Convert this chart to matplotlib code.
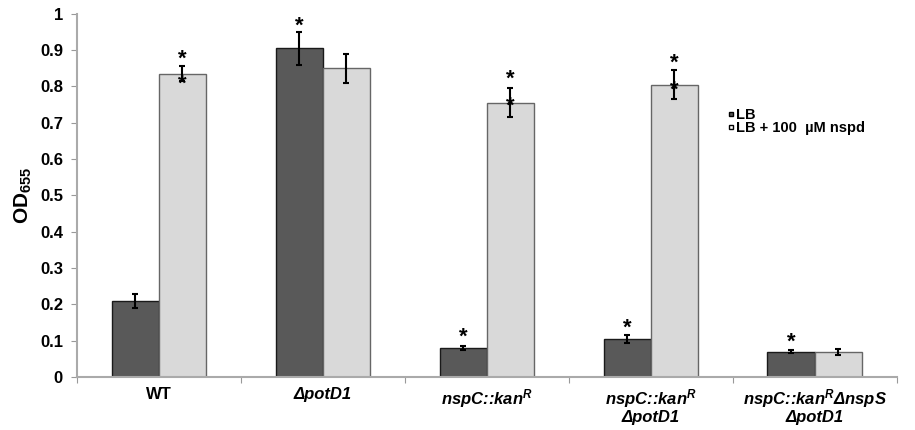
import numpy as np
import matplotlib.pyplot as plt
from matplotlib.lines import Line2D

plt.rcParams['font.family'] = ['Liberation Sans', 'DejaVu Sans']
plt.rcParams['mathtext.default'] = 'regular'

# strains and OD655 values
strains = ['WT', 'ΔpotD1', 'nspC::kan$^R$', 'nspC::kan$^R$\nΔpotD1',
           'nspC::kan$^R$ΔnspS\nΔpotD1']
lb = [0.21, 0.905, 0.08, 0.105, 0.07]
lb_err = [0.02, 0.045, 0.006, 0.01, 0.005]
nspd = [0.835, 0.85, 0.755, 0.805, 0.07]
nspd_err = [0.02, 0.04, 0.04, 0.04, 0.008]

# significance stars (group index, series offset, y position)
star_groups = [0, 0, 1, 2, 2, 3, 3, 2, 3, 4]
star_side = [1, 1, 0, 1, 1, 1, 1, 0, 0, 0]
star_y = [0.875, 0.805, 0.965, 0.82, 0.745, 0.865, 0.79, 0.11, 0.135, 0.095]

series_labels = ['LB', 'LB + 100  µM nspd']

x = np.arange(len(strains))
w = 0.288

fig = plt.figure(figsize=(9.15, 4.3), dpi=100)
ax = fig.add_axes([0.084, 0.123, 0.896, 0.845])

ax.bar(x - w / 2, lb, w, color='#595959', edgecolor='#1a1a1a', linewidth=1.0)
ax.bar(x + w / 2, nspd, w, color='#d9d9d9', edgecolor='#666666', linewidth=1.0)
ax.errorbar(x - w / 2, lb, yerr=lb_err, fmt='none', ecolor='black',
            elinewidth=1.5, capsize=2.5, capthick=1.5)
ax.errorbar(x + w / 2, nspd, yerr=nspd_err, fmt='none', ecolor='black',
            elinewidth=1.5, capsize=2.5, capthick=1.5)

for g, s, yy in zip(star_groups, star_side, star_y):
    xs = x[g] - w / 2 if s == 0 else x[g] + w / 2
    ax.text(xs, yy, '*', ha='center', va='center', fontsize=16,
            fontweight='bold')

ax.set_xlim(-0.5, len(strains) - 0.5)
ax.set_ylim(0, 1)
ax.set_yticks(np.arange(0, 1.01, 0.1))
ax.set_yticklabels(['0'] + ['%.1f' % v for v in np.arange(0.1, 0.95, 0.1)] + ['1'],
                   fontsize=12, fontweight='bold')

# category labels between ticks at the boundaries
ax.set_xticks(np.arange(-0.5, len(strains) - 0.4, 1.0))
ax.set_xticklabels([])
ax.set_xticks(x, minor=True)
ax.set_xticklabels(strains, minor=True, fontsize=12, fontweight='bold',
                   linespacing=1.0)
for i, lab in enumerate(ax.get_xticklabels(minor=True)):
    if i > 0:
        lab.set_fontstyle('italic')
ax.tick_params(axis='x', which='minor', length=0, pad=7)
ax.tick_params(axis='x', which='major', length=4, color='#999999')
ax.tick_params(axis='y', length=4, color='#999999', pad=6)

for side in ['top', 'right']:
    ax.spines[side].set_visible(False)
for side in ['left', 'bottom']:
    ax.spines[side].set_color('#aaaaaa')
    ax.spines[side].set_linewidth(1.5)

ax.set_ylabel('OD$_{655}$', fontsize=15, fontweight='bold', labelpad=4)

handles = [Line2D([], [], marker='s', ls='none', markersize=3.5,
                  markerfacecolor='#595959', markeredgecolor='black'),
           Line2D([], [], marker='s', ls='none', markersize=3.5,
                  markerfacecolor='white', markeredgecolor='black')]
leg = ax.legend(handles, series_labels, loc='upper left',
                bbox_to_anchor=(0.785, 0.76), frameon=False,
                handlelength=0.4, handletextpad=0.15, labelspacing=-0.1,
                borderpad=0, prop={'size': 10.5, 'weight': 'bold'})

fig.savefig('out.png', dpi=100)
